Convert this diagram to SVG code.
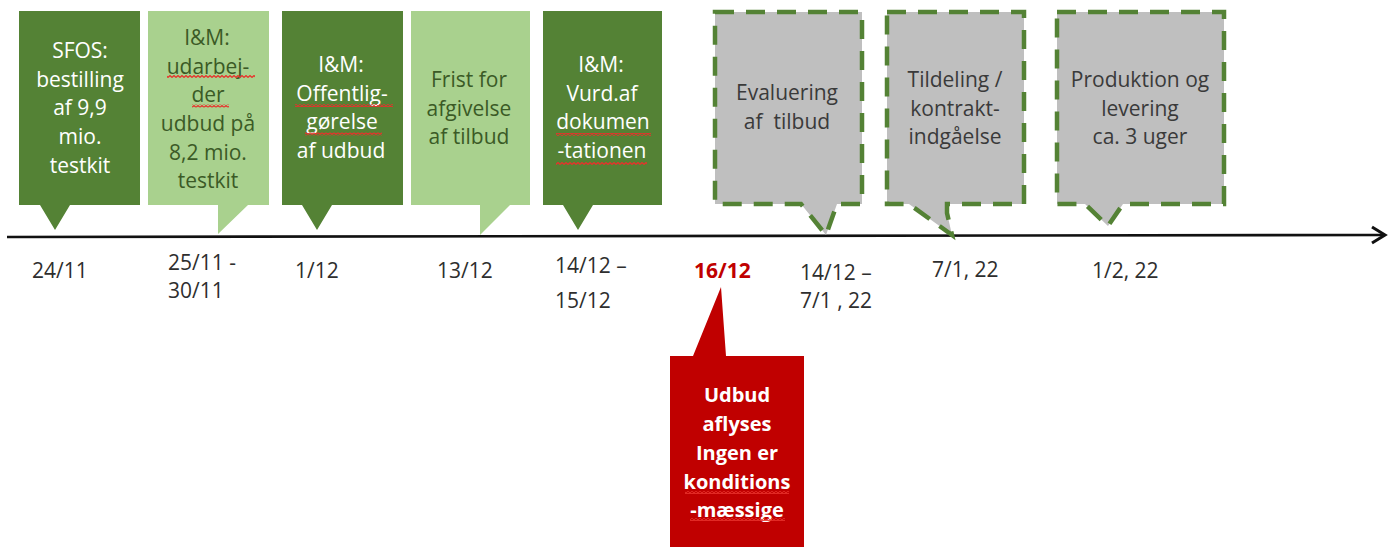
<svg xmlns="http://www.w3.org/2000/svg" width="1394" height="547" viewBox="0 0 1394 547">
<style>
  .dk { fill: #548235; }
  .lt { fill: #a9d18e; }
  .gr { fill: #bfbfbf; stroke: #548235; stroke-width: 4.5; stroke-dasharray: 19 12; stroke-linejoin: miter; }
  .rd { fill: #c00000; }
  text { font-family: "Open Sans", "Liberation Sans", sans-serif; font-size: 21px; }
  .tw { fill: #ffffff; text-anchor: middle; }
  .tg { fill: #3b5a26; text-anchor: middle; }
  .tx { fill: #3a3a3a; text-anchor: middle; }
  .dt { fill: #2e2e2e; }
  .rdt { fill: #c00000; font-weight: bold; }
  .rw { fill: #ffffff; text-anchor: middle; font-weight: bold; font-size: 20px; }
  .sq { fill: url(#wave); }
</style>
<defs>
  <pattern id="wave" patternUnits="userSpaceOnUse" width="4" height="3">
    <path d="M0 2.4 L2 0.6 L4 2.4" fill="none" stroke="#e8302a" stroke-width="1.3"/>
  </pattern>
</defs>
<rect width="1394" height="547" fill="#ffffff"/>

<g id="connectors">
  <line x1="7" y1="237" x2="1383" y2="235" stroke="#111111" stroke-width="2.6"/>
  <polyline points="1372,227 1385,235 1372,243" fill="none" stroke="#111111" stroke-width="3" stroke-linejoin="miter"/>
</g>

<g id="n1">
  <path class="dk" d="M19,11 H140 V205 H70 L55,230 L40,205 H19 Z"/>
  <text class="tw" x="80" y="58">SFOS:</text>
  <text class="tw" x="80" y="86.7">bestilling</text>
  <text class="tw" x="80" y="115.4">af 9,9</text>
  <text class="tw" x="80" y="144">mio.</text>
  <text class="tw" x="80" y="173">testkit</text>
</g>

<g id="n2">
  <path class="lt" d="M148,11 H269 V205 H248 L218,234 V205 H148 Z"/>
  <text class="tg" x="207" y="45">I&amp;M:</text>
  <text class="tg" x="208" y="73.7">udarbej-</text>
  <text class="tg" x="208" y="102.4">der</text>
  <text class="tg" x="208" y="131">udbud på</text>
  <text class="tg" x="208" y="159.7">8,2 mio.</text>
  <text class="tg" x="208" y="188.4">testkit</text>
  <rect class="sq" x="167" y="75" width="88" height="3"/>
  <rect class="sq" x="192" y="104.5" width="37" height="3"/>
</g>

<g id="n3">
  <path class="dk" d="M282,11 H403 V205 H332 L317,230 L302,205 H282 Z"/>
  <text class="tw" x="341" y="72">I&amp;M:</text>
  <text class="tw" x="342" y="100.7">Offentlig-</text>
  <text class="tw" x="342" y="129.4">gørelse</text>
  <text class="tw" x="341" y="158">af udbud</text>
  <rect class="sq" x="295" y="104" width="98" height="3"/>
  <rect class="sq" x="305" y="132.5" width="77" height="3"/>
</g>

<g id="n4">
  <path class="lt" d="M411,11 H530 V205 H510 L480,235 V205 H411 Z"/>
  <text class="tg" x="469" y="87">Frist for</text>
  <text class="tg" x="469" y="115.7">afgivelse</text>
  <text class="tg" x="469" y="144.4">af tilbud</text>
</g>

<g id="n5">
  <path class="dk" d="M543,11 H662 V205 H593 L578,230 L563,205 H543 Z"/>
  <text class="tw" x="601" y="72">I&amp;M:</text>
  <text class="tw" x="602" y="100.7">Vurd.af</text>
  <text class="tw" x="603" y="129.4">dokumen</text>
  <text class="tw" x="602" y="158">-tationen</text>
  <rect class="sq" x="556" y="133" width="95" height="3"/>
  <rect class="sq" x="556" y="162" width="91" height="3"/>
</g>

<g id="n6">
  <path class="gr" d="M715,12 H862 V204 H837 L826,235 L801,204 H715 Z"/>
  <text class="tx" x="787" y="100">Evaluering</text>
  <text class="tx" x="787" y="129" xml:space="preserve">af  tilbud</text>
</g>

<g id="n7">
  <path class="gr" d="M887,12 H1024 V204 H947 V213 L952,235 L909,204 H887 Z"/>
  <text class="tx" x="955" y="87">Tildeling /</text>
  <text class="tx" x="955" y="115.7">kontrakt-</text>
  <text class="tx" x="955" y="144.4">indgåelse</text>
</g>

<g id="n8">
  <path class="gr" d="M1057,12 H1224 V204 H1123 L1108,226 L1085,204 H1057 Z"/>
  <text class="tx" x="1140" y="87">Produktion og</text>
  <text class="tx" x="1140" y="115.7">levering</text>
  <text class="tx" x="1140" y="144.4">ca. 3 uger</text>
</g>

<g id="n9">
  <path class="rd" d="M670,356 H693 L721,287 L726,356 H804 V552 H670 Z"/>
  <text class="rw" x="737" y="402">Udbud</text>
  <text class="rw" x="737" y="431">aflyses</text>
  <text class="rw" x="737" y="460">Ingen er</text>
  <text class="rw" x="737" y="489">konditions</text>
  <text class="rw" x="737" y="517">-mæssige</text>
  <rect class="sq" x="685" y="491" width="104" height="3"/>
  <rect class="sq" x="690" y="518" width="95" height="3"/>
</g>

<g id="dates">
  <text class="dt" x="32" y="278">24/11</text>
  <text class="dt" x="168" y="270">25/11 -</text>
  <text class="dt" x="168" y="298">30/11</text>
  <text class="dt" x="295" y="278">1/12</text>
  <text class="dt" x="437" y="278">13/12</text>
  <text class="dt" x="555" y="273">14/12 –</text>
  <text class="dt" x="555" y="308">15/12</text>
  <text class="rdt" x="694" y="278">16/12</text>
  <text class="dt" x="800" y="280">14/12 –</text>
  <text class="dt" x="800" y="308">7/1 , 22</text>
  <text class="dt" x="932" y="277">7/1, 22</text>
  <text class="dt" x="1092" y="278">1/2, 22</text>
</g>
</svg>
